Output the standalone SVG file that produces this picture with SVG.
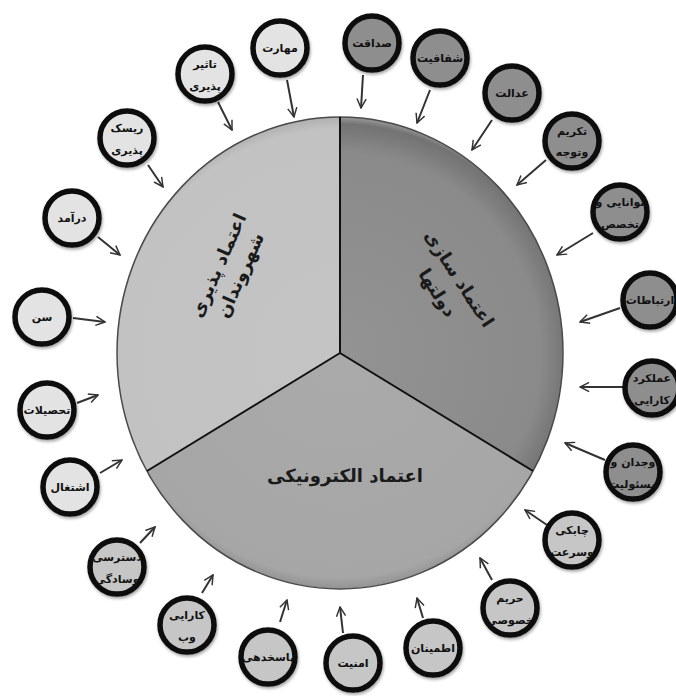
<svg xmlns="http://www.w3.org/2000/svg" width="676" height="696" viewBox="0 0 676 696">
<defs>
<style>
.ring{stroke:#111;stroke-width:5.5;filter:url(#sh)}
.lt{fill:#e3e3e3}
.md{fill:#c6c6c6}
.dk{fill:#8e8e8e}
.t{font-family:"DejaVu Sans","Noto Sans",sans-serif;font-size:11px;font-weight:bold;fill:#111;text-anchor:middle}
.big{font-family:"DejaVu Sans","Noto Sans",sans-serif;font-size:18px;font-weight:bold;fill:#1a1a1a;text-anchor:middle}
.arr{stroke:#333;stroke-width:2;fill:none;marker-end:url(#ah)}
.sep{stroke:#111;stroke-width:2;fill:none}
</style>
<marker id="ah" viewBox="0 0 12 12" refX="11" refY="6" markerWidth="11" markerHeight="11" orient="auto" markerUnits="userSpaceOnUse">
<path d="M1,1 L11,6 L1,11" fill="none" stroke="#333" stroke-width="1.6"/>
</marker>
<filter id="sh" x="-30%" y="-30%" width="160%" height="160%">
<feDropShadow dx="1" dy="2" stdDeviation="1.5" flood-color="#000" flood-opacity="0.35"/>
</filter>
<radialGradient id="gR" cx="340" cy="353" r="236" gradientUnits="userSpaceOnUse">
<stop offset="0" stop-color="#939393"/>
<stop offset="0.85" stop-color="#8a8a8a"/>
<stop offset="0.97" stop-color="#737373"/>
<stop offset="1" stop-color="#9a9a9a"/>
</radialGradient>
<radialGradient id="gL" cx="340" cy="353" r="236" gradientUnits="userSpaceOnUse">
<stop offset="0" stop-color="#c4c4c4"/>
<stop offset="0.95" stop-color="#c2c2c2"/>
<stop offset="1" stop-color="#b0b0b0"/>
</radialGradient>
<radialGradient id="gB" cx="340" cy="353" r="236" gradientUnits="userSpaceOnUse">
<stop offset="0" stop-color="#aaaaaa"/>
<stop offset="0.95" stop-color="#a6a6a6"/>
<stop offset="1" stop-color="#939393"/>
</radialGradient>
</defs>
<rect width="676" height="696" fill="#fff"/>

<g id="pie">
<g id="sector-citizens">
<path d="M340,353 L147,471 A223,236 0 0,1 340,117 Z" fill="url(#gL)"/>
</g>
<g id="sector-government">
<path d="M340,353 L340,117 A223,236 0 0,1 533,471 Z" fill="url(#gR)"/>
</g>
<g id="sector-electronic">
<path d="M340,353 L533,471 A223,236 0 0,1 147,471 Z" fill="url(#gB)"/>
</g>
<ellipse cx="340" cy="353" rx="223" ry="236" fill="none" stroke="#4a4a4a" stroke-width="1.5"/>
<path class="sep" d="M340,117 L340,353 L533,471 M340,353 L147,471"/>
<text class="big" transform="translate(224,268) rotate(-66)"><tspan x="0" y="0">اعتماد پذیری</tspan><tspan x="0" y="24">شهروندان</tspan></text>
<text class="big" transform="translate(454,282) rotate(57)"><tspan x="0" y="0">اعتماد سازی</tspan><tspan x="0" y="26">دولتها</tspan></text>
<text class="big" x="345" y="482">اعتماد الکترونیکی</text>
</g>

<g id="connectors">
<path class="arr" d="M287,80 L294,117"/>
<path class="arr" d="M363,75 L361,108"/>
<path class="arr" d="M430,90 L417,123"/>
<path class="arr" d="M492,120 L472,150"/>
<path class="arr" d="M546,160 L517,185"/>
<path class="arr" d="M593,233 L557,255"/>
<path class="arr" d="M620,308 L580,322"/>
<path class="arr" d="M623,387 L580,387"/>
<path class="arr" d="M605,460 L565,443"/>
<path class="arr" d="M547,525 L525,510"/>
<path class="arr" d="M492,580 L480,558"/>
<path class="arr" d="M423,618 L417,598"/>
<path class="arr" d="M343,633 L340,607"/>
<path class="arr" d="M280,622 L287,600"/>
<path class="arr" d="M202,593 L213,575"/>
<path class="arr" d="M140,543 L155,527"/>
<path class="arr" d="M100,473 L122,460"/>
<path class="arr" d="M77,403 L98,395"/>
<path class="arr" d="M73,318 L105,322"/>
<path class="arr" d="M98,237 L120,255"/>
<path class="arr" d="M148,165 L163,187"/>
<path class="arr" d="M218,102 L232,130"/>
</g>

<g id="n-maharat"><circle class="ring lt" cx="280" cy="48" r="27"/><text class="t" x="280" y="52">مهارت</text></g>
<g id="n-sedaghat"><circle class="ring dk" cx="372" cy="43" r="27"/><text class="t" x="372" y="47">صداقت</text></g>
<g id="n-shafafiat"><circle class="ring dk" cx="440" cy="58" r="27"/><text class="t" x="440" y="62">شفافیت</text></g>
<g id="n-edalat"><circle class="ring dk" cx="512" cy="93" r="27"/><text class="t" x="512" y="97">عدالت</text></g>
<g id="n-takrim"><circle class="ring dk" cx="572" cy="141" r="27"/><text class="t" x="572" y="135">تکریم</text><text class="t" x="572" y="156">وتوجه</text></g>
<g id="n-tavanaei"><circle class="ring dk" cx="620" cy="212" r="27"/><text class="t" x="620" y="206">توانایی و</text><text class="t" x="620" y="228">تخصص</text></g>
<g id="n-ertebatat"><circle class="ring dk" cx="650" cy="300" r="27"/><text class="t" x="650" y="304">ارتباطات</text></g>
<g id="n-amalkard"><circle class="ring dk" cx="652" cy="388" r="27"/><text class="t" x="652" y="382">عملکرد</text><text class="t" x="652" y="404">کارایی</text></g>
<g id="n-vejdan"><circle class="ring dk" cx="633" cy="472" r="27"/><text class="t" x="633" y="466">وجدان و</text><text class="t" x="633" y="488">مسئولیت</text></g>
<g id="n-chaboki"><circle class="ring md" cx="572" cy="540" r="27"/><text class="t" x="572" y="534">چابکی</text><text class="t" x="572" y="556">وسرعت</text></g>
<g id="n-harim"><circle class="ring md" cx="510" cy="608" r="27"/><text class="t" x="510" y="602">حریم</text><text class="t" x="510" y="624">خصوصی</text></g>
<g id="n-etminan"><circle class="ring md" cx="433" cy="648" r="27"/><text class="t" x="433" y="652">اطمینان</text></g>
<g id="n-amniat"><circle class="ring md" cx="353" cy="663" r="27"/><text class="t" x="353" y="667">امنیت</text></g>
<g id="n-pasokhdehi"><circle class="ring md" cx="268" cy="657" r="27"/><text class="t" x="268" y="661">پاسخدهی</text></g>
<g id="n-karaei-web"><circle class="ring md" cx="187" cy="625" r="27"/><text class="t" x="187" y="619">کارایی</text><text class="t" x="187" y="641">وب</text></g>
<g id="n-dastresi"><circle class="ring md" cx="117" cy="567" r="27"/><text class="t" x="117" y="561">دسترسی</text><text class="t" x="117" y="583">وسادگی</text></g>
<g id="n-eshteghal"><circle class="ring lt" cx="70" cy="487" r="27"/><text class="t" x="70" y="491">اشتغال</text></g>
<g id="n-tahsilat"><circle class="ring lt" cx="47" cy="410" r="27"/><text class="t" x="47" y="414">تحصیلات</text></g>
<g id="n-sen"><circle class="ring lt" cx="42" cy="317" r="27"/><text class="t" x="42" y="321">سن</text></g>
<g id="n-daramad"><circle class="ring lt" cx="72" cy="218" r="27"/><text class="t" x="72" y="222">درآمد</text></g>
<g id="n-risk"><circle class="ring lt" cx="127" cy="138" r="27"/><text class="t" x="127" y="132">ریسک</text><text class="t" x="127" y="154">پذیری</text></g>
<g id="n-tasir"><circle class="ring lt" cx="205" cy="74" r="27"/><text class="t" x="205" y="68">تاثیر</text><text class="t" x="205" y="90">پذیری</text></g>
</svg>
